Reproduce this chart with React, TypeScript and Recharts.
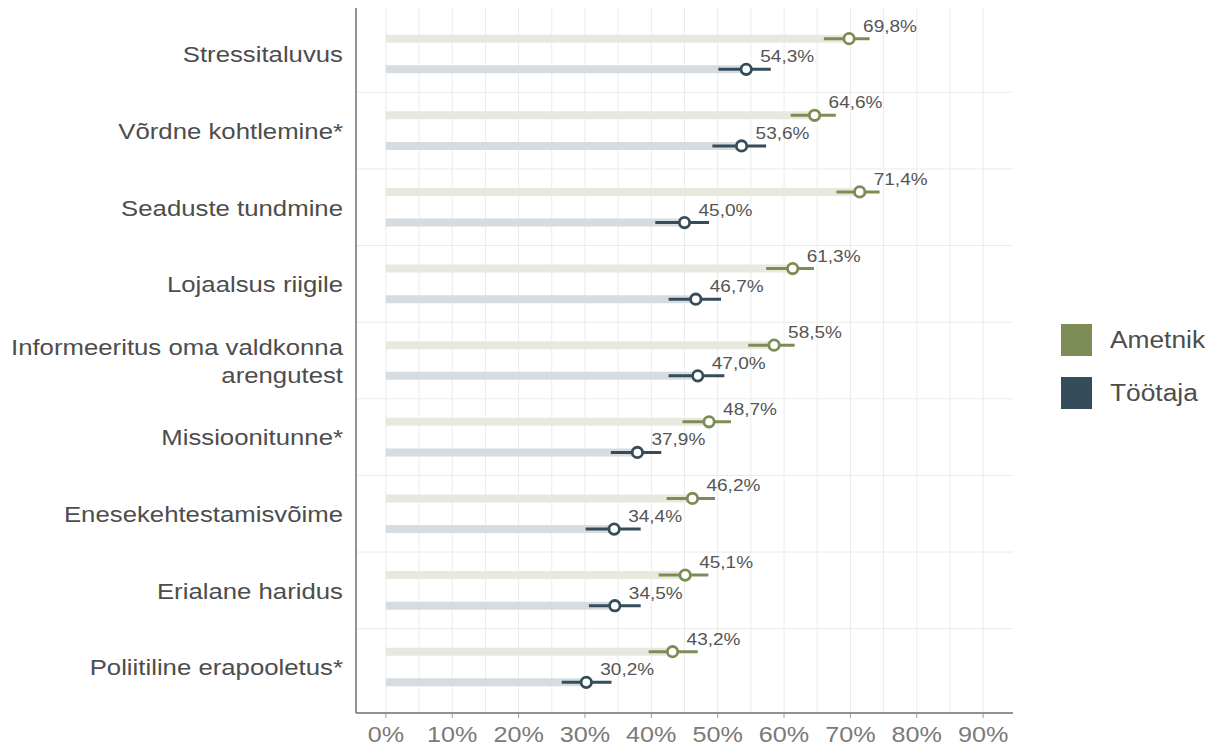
import React from 'react';
import { ScatterChart, Scatter, XAxis, YAxis, CartesianGrid, ErrorBar } from 'recharts';

const categories = [
  'Stressitaluvus',
  'Võrdne kohtlemine*',
  'Seaduste tundmine',
  'Lojaalsus riigile',
  'Informeeritus oma valdkonna arengutest',
  'Missioonitunne*',
  'Enesekehtestamisvõime',
  'Erialane haridus',
  'Poliitiline erapooletus*',
];

const ametnik = [69.8, 64.6, 71.4, 61.3, 58.5, 48.7, 46.2, 45.1, 43.2];
const ametnikLow = [66.0, 61.0, 67.9, 57.3, 54.6, 44.7, 42.3, 41.1, 39.6];
const ametnikHigh = [72.9, 67.8, 74.4, 64.5, 61.6, 52.0, 49.6, 48.6, 47.0];

const tootaja = [54.3, 53.6, 45.0, 46.7, 47.0, 37.9, 34.4, 34.5, 30.2];
const tootajaLow = [50.1, 49.2, 40.6, 42.6, 42.6, 33.9, 30.1, 30.6, 26.5];
const tootajaHigh = [58.0, 57.3, 48.7, 50.5, 51.0, 41.5, 38.4, 38.4, 34.0];

const xTicks = [0, 10, 20, 30, 40, 50, 60, 70, 80, 90];
const gridX = [0, 5, 10, 15, 20, 25, 30, 35, 40, 45, 50, 55, 60, 65, 70, 75, 80, 85, 90];
const gridY = [0.5, 1.5, 2.5, 3.5, 4.5, 5.5, 6.5, 7.5];

const AMETNIK = '#7d8c55';
const AMETNIK_BG = '#e7e8de';
const TOOTAJA = '#354c5b';
const TOOTAJA_BG = '#d6dce0';
const FONT = '"Liberation Sans", Arial, sans-serif';
const SX = 1.12; // reference text is a bit wide

const rows = (vals: number[], lo: number[], hi: number[], shift: number) =>
  vals.map((v, i) => ({
    x: v,
    y: i + shift,
    bg: [v, 0],
    ci: [v - lo[i], hi[i] - v],
    label: v.toFixed(1).replace('.', ',') + '%',
  }));

const ametnikRows = rows(ametnik, ametnikLow, ametnikHigh, -0.2);
const tootajaRows = rows(tootaja, tootajaLow, tootajaHigh, 0.2);

const CategoryTick = (props: any) => {
  const { x, y, payload } = props;
  const name = categories[payload.value] ?? '';
  const lines = name === 'Informeeritus oma valdkonna arengutest'
    ? ['Informeeritus oma valdkonna', 'arengutest']
    : [name];
  const start = lines.length > 1 ? -14 : 0;
  return (
    <g>
      {lines.map((l, i) => (
        <text key={i} transform={`translate(${x},${y + start + i * 28}) scale(${SX},1)`}
          textAnchor="end" dy="0.36em" fontSize={23} fill="#4d4d4d" fontFamily={FONT}>{l}</text>
      ))}
    </g>
  );
};

const PercentTick = (props: any) => {
  const { x, y, payload } = props;
  return (
    <text transform={`translate(${x},${y}) scale(${SX},1)`} textAnchor="middle" dy="0.71em"
      fontSize={22.5} fill="#7a7a7a" fontFamily={FONT}>{payload.value}%</text>
  );
};

const Empty = () => <g />;

const makeDot = (color: string) => (props: any) => {
  const { cx, cy, payload } = props;
  return (
    <g>
      <circle cx={cx} cy={cy} r={5.2} fill="#fff" stroke={color} strokeWidth={2.8} />
      <text transform={`translate(${cx + 14},${cy - 7}) scale(${SX},1)`} fontSize={17}
        fill="#555555" fontFamily={FONT}>{payload.label}</text>
    </g>
  );
};

const LegendItem = ({ color, text, top }: { color: string; text: string; top: number }) => (
  <div style={{ position: 'absolute', left: 1061, top, display: 'flex', alignItems: 'center' }}>
    <div style={{ width: 31, height: 32, background: color }} />
    <span style={{ marginLeft: 18, fontSize: 23.5, color: '#4d4d4d', fontFamily: FONT,
      display: 'inline-block', transform: `scaleX(${SX})`, transformOrigin: 'left center' }}>{text}</span>
  </div>
);

export default function App() {
  return (
    <div style={{ position: 'absolute', left: 0, top: 0, width: 1215, height: 746, background: '#fff' }}>
      <ScatterChart width={1215} height={746} margin={{ top: 8, right: 202, bottom: 0, left: 0 }}>
        <CartesianGrid stroke="#ebebeb" strokeWidth={1} verticalValues={gridX} horizontalValues={gridY} />
        <XAxis type="number" dataKey="x" domain={[-4.5, 94.5]} ticks={xTicks} allowDataOverflow
          height={33} tick={<PercentTick />} tickSize={5} tickMargin={8}
          stroke="#6e6e6e" axisLine={{ stroke: '#6e6e6e', strokeWidth: 1.5 }} tickLine={{ stroke: '#9a9a9a' }} />
        <YAxis type="number" dataKey="y" domain={[-0.6, 8.6]} ticks={[0, 1, 2, 3, 4, 5, 6, 7, 8]}
          allowDataOverflow reversed interval={0} width={356} tick={<CategoryTick />}
          tickLine={false} tickSize={0} tickMargin={13}
          axisLine={{ stroke: '#6e6e6e', strokeWidth: 1.5 }} />
        <Scatter data={ametnikRows} shape={Empty} isAnimationActive={false}>
          <ErrorBar dataKey="bg" direction="x" width={0} strokeWidth={8} stroke={AMETNIK_BG} />
        </Scatter>
        <Scatter data={tootajaRows} shape={Empty} isAnimationActive={false}>
          <ErrorBar dataKey="bg" direction="x" width={0} strokeWidth={8} stroke={TOOTAJA_BG} />
        </Scatter>
        <Scatter data={ametnikRows} shape={Empty} isAnimationActive={false}>
          <ErrorBar dataKey="ci" direction="x" width={0} strokeWidth={3} stroke={AMETNIK} />
        </Scatter>
        <Scatter data={tootajaRows} shape={Empty} isAnimationActive={false}>
          <ErrorBar dataKey="ci" direction="x" width={0} strokeWidth={3} stroke={TOOTAJA} />
        </Scatter>
        <Scatter name="Ametnik" data={ametnikRows} shape={makeDot(AMETNIK)} isAnimationActive={false} />
        <Scatter name="Töötaja" data={tootajaRows} shape={makeDot(TOOTAJA)} isAnimationActive={false} />
      </ScatterChart>
      <LegendItem color={AMETNIK} text="Ametnik" top={324} />
      <LegendItem color={TOOTAJA} text="Töötaja" top={377} />
    </div>
  );
}
